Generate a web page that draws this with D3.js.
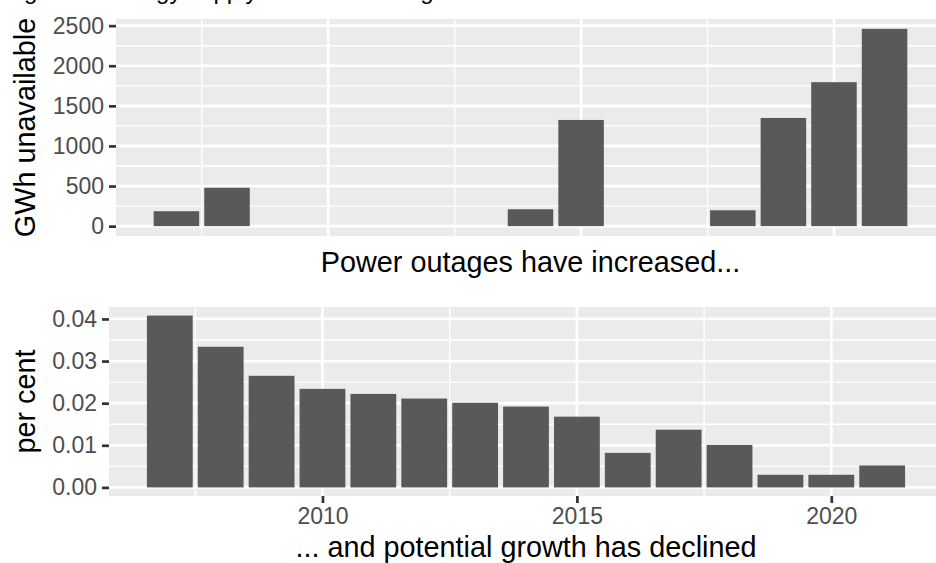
<!DOCTYPE html>
<html>
<head>
<meta charset="utf-8">
<script src="https://cdn.jsdelivr.net/npm/d3@7"></script>
<style>
  body { margin: 0; background: #ffffff; }
  svg { display: block; font-family: "Liberation Sans", Arial, Helvetica, sans-serif; }
</style>
</head>
<body>
<div id="chart"></div>
<script>
// values
var years = [2007, 2008, 2009, 2010, 2011, 2012, 2013, 2014, 2015, 2016, 2017, 2018, 2019, 2020, 2021];
var outages = [186, 479, 0, 0, 0, 0, 0, 210, 1324, 0, 0, 198, 1349, 1795, 2460];
var growth = [0.0408, 0.0334, 0.0265, 0.0234, 0.0222, 0.0211, 0.0201, 0.0192, 0.0168, 0.0082, 0.0137, 0.0101, 0.0030, 0.0030, 0.0052];
var outageTicks = [0, 500, 1000, 1500, 2000, 2500];
var growthTicks = [0, 0.01, 0.02, 0.03, 0.04];
var yearTicks = [2010, 2015, 2020];

var width = 936,
   height = 563,
   barWidth = 0.9,
   tickFont = 23,
   titleFont = 28.8;

var svg = d3.select('#chart')
   .append('svg')
   .attr('width', width)
   .attr('height', height)
   .style('background', '#ffffff');

// title sits mostly above the picture, only its descenders show
svg.append('text')
   .attr('x', 4)
   .attr('y', -1)
   .attr('font-size', 24)
   .attr('fill', '#000000')
   .text('Figure 1: Energy supply and economic growth');

function midpoints(ticks, lo, hi) {
   var step = ticks[1] - ticks[0];
   var out = [];
   for (var i = -1; i < ticks.length; i++) {
      var m = ticks[0] + step * i + step / 2;
      if (m > lo && m < hi) out.push(m);
   }
   return out;
}

function drawPanel(p) {
   var g = svg.append('g')
      .attr('transform', 'translate(' + p.left + ',' + p.top + ')');

   // ggplot style expansion: 5% on both sides
   var xlo = d3.min(years) - barWidth / 2,
      xhi = d3.max(years) + barWidth / 2,
      xpad = (xhi - xlo) * 0.05;
   var x = d3.scaleLinear()
      .domain([xlo - xpad, xhi + xpad])
      .range([0, p.width]);

   var ymax = d3.max(p.values),
      ypad = ymax * 0.05;
   var y = d3.scaleLinear()
      .domain([-ypad, ymax + ypad])
      .range([p.height, 0]);

   g.append('rect')
      .attr('width', p.width)
      .attr('height', p.height)
      .attr('fill', '#EBEBEB');

   var xd = x.domain(), yd = y.domain();

   // minor grid
   g.selectAll('.ymin').data(midpoints(p.yTicks, yd[0], yd[1]))
      .enter().append('line')
      .attr('x1', 0).attr('x2', p.width)
      .attr('y1', function (d) { return y(d); })
      .attr('y2', function (d) { return y(d); })
      .attr('stroke', '#ffffff').attr('stroke-width', 1.35);
   g.selectAll('.xmin').data(midpoints(yearTicks, xd[0], xd[1]))
      .enter().append('line')
      .attr('y1', 0).attr('y2', p.height)
      .attr('x1', function (d) { return x(d); })
      .attr('x2', function (d) { return x(d); })
      .attr('stroke', '#ffffff').attr('stroke-width', 1.35);

   // major grid
   g.selectAll('.ymaj').data(p.yTicks)
      .enter().append('line')
      .attr('x1', 0).attr('x2', p.width)
      .attr('y1', function (d) { return y(d); })
      .attr('y2', function (d) { return y(d); })
      .attr('stroke', '#ffffff').attr('stroke-width', 2.7);
   g.selectAll('.xmaj').data(yearTicks)
      .enter().append('line')
      .attr('y1', 0).attr('y2', p.height)
      .attr('x1', function (d) { return x(d); })
      .attr('x2', function (d) { return x(d); })
      .attr('stroke', '#ffffff').attr('stroke-width', 2.7);

   // bars
   g.selectAll('.bar').data(p.values)
      .enter().append('rect')
      .attr('x', function (d, i) { return x(years[i] - barWidth / 2); })
      .attr('width', function (d, i) { return x(years[i] + barWidth / 2) - x(years[i] - barWidth / 2); })
      .attr('y', function (d) { return y(Math.max(d, 0)); })
      .attr('height', function (d) { return Math.abs(y(d) - y(0)); })
      .attr('fill', '#595959');

   // y axis
   var ya = g.append('g')
      .call(d3.axisLeft(y).tickValues(p.yTicks).tickSize(7).tickPadding(5).tickFormat(p.yFormat));
   ya.select('.domain').remove();
   ya.attr('font-size', tickFont).attr('font-family', null);
   ya.selectAll('line').attr('stroke', '#333333').attr('stroke-width', 2.7);
   ya.selectAll('text').attr('fill', '#4D4D4D');

   if (p.xAxis) {
      var xa = g.append('g')
         .attr('transform', 'translate(0,' + p.height + ')')
         .call(d3.axisBottom(x).tickValues(yearTicks).tickSize(7).tickPadding(5).tickFormat(d3.format('d')));
      xa.select('.domain').remove();
      xa.attr('font-size', tickFont).attr('font-family', null);
      xa.selectAll('line').attr('stroke', '#333333').attr('stroke-width', 2.7);
      xa.selectAll('text').attr('fill', '#4D4D4D');
   }

   // axis titles
   svg.append('text')
      .attr('transform', 'translate(35,' + (p.top + p.height / 2) + ') rotate(-90)')
      .attr('text-anchor', 'middle')
      .attr('font-size', titleFont)
      .attr('fill', '#000000')
      .text(p.yTitle);

   svg.append('text')
      .attr('x', p.left + p.width / 2)
      .attr('y', p.xTitleY)
      .attr('text-anchor', 'middle')
      .attr('font-size', titleFont)
      .attr('fill', '#000000')
      .text(p.xTitle);
}

drawPanel({
   left: 116, top: 19, width: 829, height: 217,
   values: outages,
   yTicks: outageTicks,
   yFormat: d3.format('d'),
   yTitle: 'GWh unavailable',
   xTitle: 'Power outages have increased...',
   xTitleY: 272,
   xAxis: false
});

drawPanel({
   left: 109, top: 307, width: 834, height: 189,
   values: growth,
   yTicks: growthTicks,
   yFormat: d3.format('.2f'),
   yTitle: 'per cent',
   xTitle: '... and potential growth has declined',
   xTitleY: 557,
   xAxis: true
});
</script>
</body>
</html>
